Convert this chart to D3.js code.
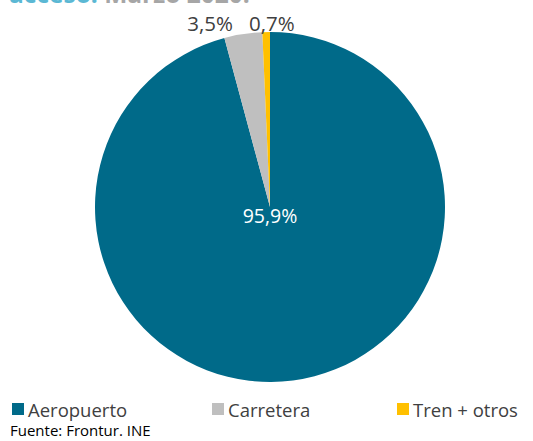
<!DOCTYPE html>
<html><head><meta charset="utf-8">
<script src="https://cdn.jsdelivr.net/npm/d3@7"></script>
<style>body{margin:0;background:#fff;}svg{display:block;}</style>
</head><body><svg id="c" width="533" height="441"></svg>
<script>
const categories = ["Aeropuerto", "Carretera", "Tren + otros"];
const values = [95.9, 3.5, 0.7];
const labels = ["95,9%", "3,5%", "0,7%"];
const colors = ["#006A89", "#BFBFBF", "#FFC000"];

const svg = d3.select("#c");
const font = "'Open Sans', 'Noto Sans', sans-serif";

// clipped title (only its lower part is visible, as in the reference)
const t = svg.append("text").attr("x", 9).attr("y", 3).attr("font-family", font)
  .attr("font-size", 24.5).attr("font-weight", "bold");
t.append("tspan").attr("fill", "#5BB8D4").text("acceso. ");
t.append("tspan").attr("fill", "#A6A6A6").text("Marzo 2020.");

const cx = 270, cy = 207, r = 175;
const pie = d3.pie().sort(null).value(d => d)(values);
const arc = d3.arc().innerRadius(0).outerRadius(r);
const g = svg.append("g").attr("transform", `translate(${cx},${cy})`);
g.selectAll("path").data(pie).enter().append("path")
  .attr("d", arc).attr("fill", (d, i) => colors[i]);

// labels
g.append("text").attr("x", 0).attr("y", 16).attr("text-anchor", "middle")
  .attr("font-family", font).attr("font-size", 19.5).attr("fill", "#fff").text(labels[0]);
const outer = d3.arc().innerRadius(r + 14).outerRadius(r + 14);
const dx = [0, -31, 6];
[1, 2].forEach(i => {
  const p = outer.centroid(pie[i]);
  g.append("text").attr("x", p[0] + dx[i]).attr("y", -r - 1)
    .attr("text-anchor", "middle").attr("font-family", font).attr("font-size", 20.5)
    .attr("fill", "#404040").text(labels[i]);
});

// legend
const lx = [12, 212, 397];
categories.forEach((c, i) => {
  svg.append("rect").attr("x", lx[i]).attr("y", 403).attr("width", 12).attr("height", 12).attr("fill", colors[i]);
  svg.append("text").attr("x", lx[i] + 16).attr("y", 417).attr("font-family", font)
    .attr("font-size", 18.5).attr("fill", "#404040").text(c);
});
svg.append("text").attr("x", 10).attr("y", 436).attr("font-family", font)
  .attr("font-size", 15).attr("fill", "#000").text("Fuente: Frontur. INE");
</script></body></html>
